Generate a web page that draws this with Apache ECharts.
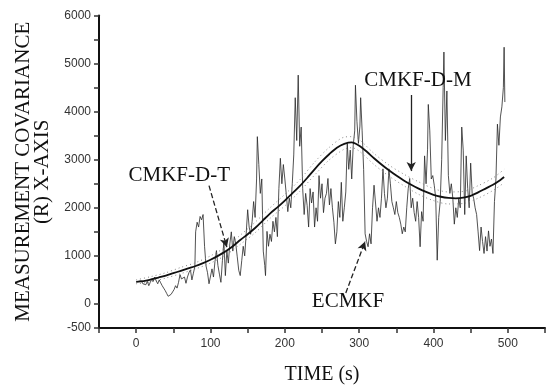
<!DOCTYPE html>
<html><head><meta charset="utf-8">
<script src="https://cdn.jsdelivr.net/npm/echarts@6/dist/echarts.min.js"></script>
<style>html,body{margin:0;padding:0;background:#fff}#c{width:548px;height:390px}</style>
</head><body><div id="c"></div>
<script>
// ECMKF noisy estimate [time, value]
const ecmkf = [[3,470],[5,430],[7,480],[9,420],[11,460],[13,400],[15,470],[17,380],[19,450],[21,520],[23,470],[25,560],[27,480],[29,420],[31,500],[33,440],[35,380],[37,330],[39,280],[41,220],[43,160],[45,150],[47,200],[49,250],[51,300],[53,380],[55,330],[57,450],[59,610],[61,520],[63,500],[65,560],[67,430],[69,560],[71,650],[73,710],[75,500],[77,640],[79,780],[80,1500],[82,1700],[84,1600],[86,1820],[88,1750],[90,1860],[92,1200],[94,790],[96,650],[98,420],[100,380],[102,730],[104,560],[106,880],[108,1110],[110,800],[112,620],[114,450],[116,900],[118,1300],[120,590],[122,1100],[124,850],[126,1250],[128,1500],[130,1100],[132,1400],[134,1250],[136,980],[138,700],[140,590],[142,900],[144,1200],[146,1000],[148,1460],[150,1960],[152,1600],[154,1450],[156,1720],[158,2130],[160,1800],[162,2600],[163,3480],[165,2900],[167,2300],[169,2600],[171,1100],[173,800],[174,590],[176,1510],[178,1200],[180,1450],[182,1300],[184,1720],[186,1500],[188,1800],[190,1400],[192,2400],[194,3030],[196,2500],[198,2900],[200,2600],[202,2270],[204,1920],[206,2200],[208,2000],[210,2500],[212,3100],[214,4290],[216,3400],[218,4760],[220,3280],[222,3680],[224,2400],[226,1860],[228,2300],[230,2050],[232,1600],[234,2400],[236,2100],[238,2330],[240,1600],[242,2000],[244,1720],[246,2670],[248,2200],[250,2500],[252,1900],[254,2200],[256,2300],[258,2610],[260,2060],[262,2400],[264,2000],[266,1700],[268,1250],[270,1500],[272,2130],[274,1800],[276,2530],[278,1720],[280,2000],[282,2330],[284,3340],[286,2800],[288,3200],[290,2600],[292,3300],[294,3600],[295,4550],[297,3800],[299,3340],[301,3700],[302,4290],[304,3600],[306,2800],[308,1460],[310,1300],[312,1190],[314,1460],[316,1250],[318,2000],[320,2470],[322,2100],[324,1720],[326,2000],[328,1800],[330,2200],[332,2810],[334,2300],[336,2000],[338,2200],[340,2810],[342,2500],[344,2130],[346,2000],[348,1860],[350,2130],[352,1900],[354,1800],[356,1660],[358,1460],[360,1600],[362,1500],[364,2000],[366,2400],[368,2610],[370,2000],[372,2200],[374,1900],[376,1720],[378,2130],[380,1800],[382,1190],[384,1920],[386,1720],[388,3080],[390,2500],[392,3220],[393,4150],[395,3600],[397,2600],[399,2670],[401,2470],[403,2200],[405,910],[407,1800],[409,2130],[411,3000],[413,4500],[414,5240],[416,3400],[418,4430],[420,2670],[422,2300],[424,2500],[426,2200],[428,1660],[430,2000],[432,1800],[434,2200],[436,2000],[438,3680],[440,3200],[442,1860],[444,3080],[446,2400],[448,2000],[450,2930],[452,2300],[454,2200],[456,2000],[458,1860],[460,1500],[462,1110],[464,1600],[466,1300],[468,1050],[470,1400],[472,1100],[474,1520],[476,1200],[478,1350],[480,1050],[482,2130],[484,2600],[486,3740],[488,3300],[490,3890],[492,4100],[494,4500],[495,5340],[496,4200]];

// CMKF-D-T smooth estimate
const cmkfdt = [[0,460],[10,475],[20,510],[30,550],[40,590],[50,640],[60,690],[70,740],[80,790],[90,850],[100,920],[110,1000],[120,1090],[130,1200],[140,1330],[150,1450],[160,1580],[170,1730],[180,1880],[190,2010],[200,2150],[210,2300],[220,2450],[230,2620],[240,2800],[250,2970],[260,3120],[270,3250],[280,3330],[290,3360],[300,3290],[310,3170],[320,3030],[330,2900],[340,2780],[350,2670],[360,2570],[370,2480],[380,2400],[390,2330],[400,2270],[410,2230],[420,2205],[430,2195],[440,2210],[450,2250],[460,2320],[470,2400],[480,2480],[490,2580],[495,2640]];

// CMKF-D-M scattered estimate (upper / lower traces)
const cmkfdmUpper = [[0,500],[20,570],[40,650],[60,760],[80,860],[100,1000],[120,1180],[140,1430],[160,1700],[180,2000],[200,2280],[220,2580],[240,2950],[260,3260],[280,3470],[290,3480],[300,3420],[320,3130],[340,2890],[360,2700],[380,2540],[400,2400],[420,2330],[440,2340],[460,2460],[480,2620],[495,2800]];
const cmkfdmLower = [[0,420],[20,460],[40,540],[60,630],[80,730],[100,850],[120,1010],[140,1240],[160,1480],[180,1780],[200,2040],[220,2340],[240,2680],[260,3000],[280,3220],[290,3250],[300,3180],[320,2900],[340,2660],[360,2460],[380,2280],[400,2150],[420,2080],[440,2090],[460,2200],[480,2360],[495,2520]];

const annotations = [
  {text:'CMKF-D-T', at:[58,2663]},
  {text:'CMKF-D-M', at:[379,4650]},
  {text:'ECMKF', at:[285,47]}
];
const arrows = [
  {from:[98,2460], to:[122,1182], dash:'dashed'},
  {from:[282,229], to:[308,1300], dash:'dashed'},
  {from:[370,4346], to:[370,2764], dash:'solid'}
];

const serif = '"Liberation Serif","DejaVu Serif",serif';
const chart = echarts.init(document.getElementById('c'), null, {renderer:'canvas'});
chart.setOption({
  animation:false,
  backgroundColor:'#fff',
  grid:{left:99, top:15.5, width:450, height:320.5, containLabel:false},
  xAxis:{type:'value', min:-50, max:550, interval:50,
    name:'TIME (s)', nameLocation:'middle', nameGap:37,
    nameTextStyle:{fontFamily:serif, fontSize:20, color:'#111'},
    axisLine:{show:true, onZero:false, lineStyle:{color:'#111', width:2}},
    axisTick:{show:true, inside:false, length:5, lineStyle:{color:'#333', width:1.5}},
    axisLabel:{margin:10, fontSize:12, color:'#333', fontFamily:'"Liberation Sans",Arial,sans-serif',
      formatter:v=> (v>=0 && v%100===0) ? String(v) : ''},
    splitLine:{show:false}},
  yAxis:{type:'value', min:-500, max:6000, interval:500,
    name:'MEASUREMENT COVARIANCE\n(R) X-AXIS', nameLocation:'middle', nameGap:38, nameRotate:90,
    nameTextStyle:{fontFamily:serif, fontSize:21, color:'#111', lineHeight:19},
    axisLine:{show:true, onZero:false, lineStyle:{color:'#111', width:2}},
    axisTick:{show:true, inside:false, length:5, lineStyle:{color:'#333', width:1.5}},
    axisLabel:{margin:8, fontSize:12, color:'#333', fontFamily:'"Liberation Sans",Arial,sans-serif',
      formatter:v=> (v%1000===0 || v===-500) ? String(v) : ''},
    splitLine:{show:false}},
  series:[
    {type:'line', name:'ECMKF', data:ecmkf, symbol:'none', lineStyle:{color:'rgba(40,40,40,0.8)', width:1}, z:2},
    {type:'line', name:'CMKF-D-M upper', data:cmkfdmUpper, symbol:'none', smooth:0.3, lineStyle:{color:'#888', width:1, type:[1,3]}, z:3},
    {type:'line', name:'CMKF-D-M lower', data:cmkfdmLower, symbol:'none', smooth:0.3, lineStyle:{color:'#888', width:1, type:[1,3]}, z:3},
    {type:'line', name:'CMKF-D-T', data:cmkfdt, symbol:'none', smooth:0.3, lineStyle:{color:'#111', width:1.8}, z:4,
      markPoint:{symbol:'circle', symbolSize:1, itemStyle:{color:'rgba(0,0,0,0)'},
        label:{show:true, position:'inside', color:'#111', fontFamily:serif, fontSize:21},
        data:annotations.map(a=>({coord:a.at, value:a.text, label:{formatter:a.text}}))},
      markLine:{silent:true, symbol:['none','arrow'], symbolSize:[7,9], label:{show:false},
        data:arrows.map(a=>[{coord:a.from, lineStyle:{type:a.dash, color:'#222', width:1.3}},{coord:a.to}])}}
  ]
});
</script></body></html>
